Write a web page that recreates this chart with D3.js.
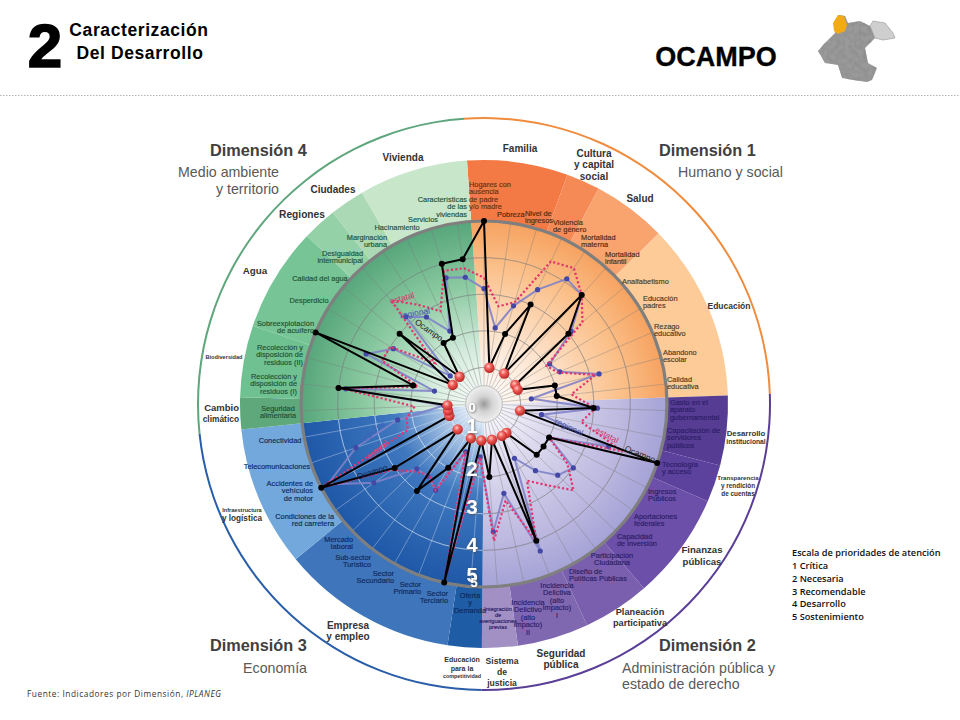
<!DOCTYPE html>
<html><head><meta charset="utf-8">
<script src="https://cdnjs.cloudflare.com/ajax/libs/d3/7.8.5/d3.min.js"></script>
<style>html,body{margin:0;padding:0;background:#fff}svg{display:block;font-family:"Liberation Sans",Arial,sans-serif}</style>
</head><body><svg id="c" width="960" height="720"></svg>
<script>
// ---------- DATA ----------
const indicators = ["Hogares con|ausencia|de padre|y/o madre","Pobreza","Nivel de|ingresos","Violencia|de género","Mortalidad|materna","Mortalidad|infantil","Analfabetismo","Educación|padres","Rezago|educativo","Abandono|escolar","Calidad|educativa","Gasto en el|aparato|gubernamental","Capacitación de|servidores|públicos","Tecnología|y acceso","Ingresos|Públicos","Aportaciones|federales","Capacidad|de inversión","Participación|Ciudadana","Diseño de|Políticas Públicas","Incidencia|Delictiva|(alto|impacto)|I","Incidencia|Delictivo|(alto|impacto)|II","Integración|de|averiguaciones|previas","Oferta|y|Demanda","Sector|Terciario","Sector|Primario","Sector|Secundario","Sub-sector|Turístico","Mercado|laboral","Condiciones de la|red carretera","Accidentes de|vehículos|de motor","Telecomunicaciones","Conectividad","Seguridad|alimentaria","Recolección y|disposición de|residuos (I)","Recolección y|disposición de|residuos (II)","Sobreexplotación|de acuífero","Desperdicio","Calidad del agua","Desigualdad|intermunicipal","Marginación|urbana","Hacinamiento","Servicios","Características|de las|viviendas"];
const ocampo   = [5,1,2,3,1,4,3,1,1,2,2,3,1,5,2,2,2,1,1,4,1,2,1,5,1,2,3,1,3,5,1,1,1,4,2,5,1,3,1,2,2,4,4];
const regional = [3.15,2.1,2.8,3.45,4.1,4,3.1,2.1,2.25,3.25,1.3,3.1,1.6,3.6,2,3,2.8,2.3,1.7,4.3,2.5,3.5,1.45,4.7,1.4,2.7,2.5,2.55,3.7,4.8,3.7,2.4,1.1,3.8,1.4,3.5,2.9,1.2,3.2,2.85,2.2,3.6,3.5];
const estatal  = [3.45,2.7,2.9,4.3,4.45,4,3.5,2,2.2,3.15,2.4,3.05,2.7,4,2,2.8,3.4,2.8,2.4,4,2.7,3.75,1.45,4.9,1.4,2.7,2.45,2.65,3.1,5,2.2,2.15,1.9,3.9,1.86,3.03,3,1.75,3.8,3.25,2.8,3.8,3.75];
const scaleTicks = [0,1,2,3,4,5];
const sectors = ["Familia","Cultura","Salud","Educación","Desarrollo institucional","Transparencia","Finanzas públicas","Planeación participativa","Seguridad pública","Sistema de justicia","Educación para la competitividad","Empresa y empleo","Infraestructura y logística","Cambio climático","Biodiversidad","Agua","Regiones","Ciudades","Vivienda"];
const sectorEnds = [-4,20,28,45.7,88,104.6,113.5,139,155,172,180.5,188.6,230.5,264,271.6,288.7,313.5,321.7,330,356];
const dimensions = ["Dimensión 1","Dimensión 2","Dimensión 3","Dimensión 4"];
const dimensionEnds = [-4,88,180.5,264,356];
const legendLines = ["Escala de prioridades de atención","1 Crítica","2 Necesaria","3 Recomendable","4 Desarrollo","5 Sostenimiento"];

// ---------- STYLE / LAYOUT ----------
const sectorColors = ["#f47a45","#f68a57","#f9a36e","#fccb97","#573c93","#5d429d","#6b4fa8","#795fae","#8068b1","#a28fc4","#1f5ca6","#3f75bb","#72a8dc","#5fa87c","#70c192","#77c596","#95d1a7","#abd9b6","#c8e6ca"];
const dimColors = ["#f08c3e","#5b3f96","#2a5ea9","#5fa67c"];
const discStops = [
 [[0,"#ffffff"],[.35,"#fde6d2"],[.75,"#fbc08a"],[1,"#f6a260"]],
 [[0,"#ffffff"],[.35,"#dcd9ee"],[.75,"#bdb9e0"],[1,"#a5a2d6"]],
 [[0,"#ffffff"],[.18,"#b9d0ea"],[.5,"#3f78bf"],[1,"#1e58a7"]],
 [[0,"#ffffff"],[.3,"#d5ecdd"],[.65,"#8ccaa2"],[1,"#57a67b"]]];
const W=960,H=720,cx=484,cy=404,R5=183,Rband=244,Rring=286;
const rad=d=>d*Math.PI/180;
const svg=d3.select("#c");
const defs=svg.append("defs");
const plot=svg.append("g").attr("transform",`translate(${cx},${cy})`);
const rScale=d3.scaleLinear().domain([0,5]).range([0,R5]);
const aScale=d3.scaleLinear().domain([0,indicators.length]).range([0,2*Math.PI]);
const arc=d3.arc();
const pt=(i,v)=>[rScale(v)*Math.sin(aScale(i)),-rScale(v)*Math.cos(aScale(i))];

discStops.forEach((st,i)=>{
  const g=defs.append("radialGradient").attr("id","q"+i).attr("gradientUnits","userSpaceOnUse").attr("cx",0).attr("cy",0).attr("r",R5);
  st.forEach(s=>g.append("stop").attr("offset",s[0]).attr("stop-color",s[1]));
});
const hub=defs.append("radialGradient").attr("id","hub");
[[0,"#9a9a9a"],[.45,"#d4d4d4"],[1,"#efefef"]].forEach(s=>hub.append("stop").attr("offset",s[0]).attr("stop-color",s[1]));
const ball=defs.append("radialGradient").attr("id","ball").attr("cx",.4).attr("cy",.35).attr("r",.7);
[[0,"#ffc9c4"],[.4,"#ee5a55"],[1,"#b5201f"]].forEach(s=>ball.append("stop").attr("offset",s[0]).attr("stop-color",s[1]));
defs.append("filter").attr("id","sh").attr("x","-30%").attr("y","-30%").attr("width","160%").attr("height","160%")
  .append("feDropShadow").attr("dx",0.6).attr("dy",0.8).attr("stdDeviation",0.8).attr("flood-color","#444").attr("flood-opacity",.75);
const mott=defs.append("filter").attr("id","mott").attr("x","0").attr("y","0").attr("width","100%").attr("height","100%");
mott.append("feTurbulence").attr("type","fractalNoise").attr("baseFrequency",.22).attr("numOctaves",2).attr("seed",4).attr("result","n");
mott.append("feColorMatrix").attr("in","n").attr("type","matrix").attr("values","0 0 0 0 .25  0 0 0 0 .25  0 0 0 0 .25  1.6 0 0 0 -.55").attr("result","d");
mott.append("feComposite").attr("in","d").attr("in2","SourceAlpha").attr("operator","in").attr("result","m");
const mm=mott.append("feMerge");mm.append("feMergeNode").attr("in","SourceGraphic");mm.append("feMergeNode").attr("in","m");

dimensions.forEach((d,i)=>{
  plot.append("path").attr("fill",dimColors[i]).attr("d",arc({innerRadius:Rring-1,outerRadius:Rring+1,startAngle:rad(dimensionEnds[i]),endAngle:rad(dimensionEnds[i+1])}));
});
sectors.forEach((s,i)=>{
  plot.append("path").attr("fill",sectorColors[i]).attr("d",arc({innerRadius:R5,outerRadius:Rband,startAngle:rad(sectorEnds[i]),endAngle:rad(sectorEnds[i+1])}));
});
dimensions.forEach((d,i)=>{
  plot.append("path").attr("fill",`url(#q${i})`).attr("d",arc({innerRadius:0,outerRadius:R5,startAngle:rad(dimensionEnds[i]),endAngle:rad(dimensionEnds[i+1])}));
});
const grid=plot.append("g");
const gridGrey="rgba(120,120,120,.38)", gridWhite="rgba(255,255,255,.32)";
scaleTicks.slice(1,5).forEach(t=>{
  [0,1,2,3].forEach(q=>grid.append("path").attr("fill","none").attr("stroke",q==2?gridWhite:gridGrey).attr("stroke-width",1)
    .attr("d",d3.arc()({innerRadius:rScale(t),outerRadius:rScale(t),startAngle:rad(dimensionEnds[q]),endAngle:rad(dimensionEnds[q+1])})));
});
indicators.forEach((d,i)=>{
  const deg=aScale(i)*180/Math.PI;
  const blue=deg>180.5&&deg<264;
  const a=pt(i,.5),b=pt(i,5);
  grid.append("line").attr("x1",a[0]).attr("y1",a[1]).attr("x2",b[0]).attr("y2",b[1]).attr("stroke",blue?gridWhite:gridGrey).attr("stroke-width",1);
});
plot.append("circle").attr("r",rScale(.5)).attr("fill","url(#hub)").attr("stroke","#b0b0b0").attr("stroke-width",.8);
plot.append("circle").attr("r",R5).attr("fill","none").attr("stroke","#7f7f7f").attr("stroke-width",3.2);

const radial=d3.lineRadial().angle((d,i)=>aScale(i)).radius(d=>rScale(d)).curve(d3.curveLinearClosed);
plot.append("path").attr("d",radial(regional)).attr("fill","none").attr("stroke","#7f82c8").attr("stroke-width",2).attr("stroke-opacity",.9);
plot.selectAll(".rd").data(regional).join("circle").attr("r",2.6).attr("fill","#4347a6").attr("cx",(d,i)=>pt(i,d)[0]).attr("cy",(d,i)=>pt(i,d)[1]);
plot.append("path").attr("d",radial(estatal)).attr("fill","none").attr("stroke","#e2356f").attr("stroke-width",2.2).attr("stroke-dasharray","2.2 2.2");
plot.append("path").attr("d",radial(ocampo)).attr("fill","none").attr("stroke","#000").attr("stroke-width",2).attr("stroke-linejoin","round");
plot.selectAll(".od").data(ocampo).join("circle").attr("r",d=>d===1?5.2:3).attr("fill",d=>d===1?"url(#ball)":"#000").attr("cx",(d,i)=>pt(i,d)[0]).attr("cy",(d,i)=>pt(i,d)[1]);

const tags=[["estatal",402,298,-15,"#d8336b"],["regional",415,313,-10,"#4a55b0"],["Ocampo",429,330,35,"#222"],
 ["regional",569,427,25,"#4a55a8"],["estatal",607,435,28,"#d8336b"],["Ocampo",640,454,22,"#222"],
 ["regional",372,432,-38,"#3f63b8"],["estatal",377,450,-38,"#e0457e"],["Ocampo",372,472,-18,"#16224a"]];
tags.forEach(t=>svg.append("text").attr("transform",`translate(${t[1]},${t[2]}) rotate(${t[3]})`).attr("text-anchor","middle").attr("dy",".35em").attr("font-size",8.5).attr("fill",t[4]).text(t[0]));

const numY=[407,426,469,507,545,575], numS=[13,20,20,20,20,20];
scaleTicks.forEach((t,i)=>svg.append("text").attr("x",472).attr("y",numY[i]).attr("dy",".35em").attr("text-anchor","middle").attr("font-weight","bold").attr("font-size",numS[i]).attr("fill","#fff").attr("filter","url(#sh)").text(t));
svg.append("text").attr("x",474).attr("y",582).attr("dy",".35em").attr("text-anchor","middle").attr("font-weight","bold").attr("font-size",13).attr("fill","#fff").attr("filter","url(#sh)").text("5");

const il=[[469,184,"start",7.4,"#6a2f12"],[497,214,"start",7.4,"#4d2a12"],[525,213,"start",7.4,"#4d2a12"],[553,222,"start",7.4,"#4d2a12"],[581,237,"start",7.4,"#4d2a12"],[605,254,"start",7.4,"#4d2a12"],[622,281,"start",7.4,"#4d3a20"],[643,298,"start",7.4,"#4d3a20"],[654,326,"start",7.4,"#4d3a20"],[663,352,"start",7.4,"#4d3a20"],[667,379,"start",7.4,"#4d3a20"],
[670,402,"start",7.4,"#2b1d66"],[667,430,"start",7.4,"#2b1d66"],[662,464,"start",7.4,"#2b1d66"],[648,491,"start",7.4,"#2b1d66"],[634,516,"start",7.4,"#2b1d66"],[617,536,"start",7.4,"#2b1d66"],[612,555,"middle",7.4,"#2b1d66"],[569,571,"start",7.4,"#2b1d66"],[557,585,"middle",7.4,"#2b1d66"],[528,602,"middle",7.4,"#2b1d66"],[498,609,"middle",5.6,"#2b1d66"],
[470,595,"middle",7.4,"#10285a"],[448,593,"end",7.4,"#10285a"],[421,584,"end",7.4,"#10285a"],[394,573,"end",7.4,"#10285a"],[371,557,"end",7.4,"#10285a"],[353,539,"end",7.4,"#10285a"],[334,516,"end",7.4,"#10285a"],[313,483,"end",7.4,"#10285a"],[277,466,"middle",7.4,"#10285a"],[280,440,"middle",7.4,"#10285a"],
[278,408,"middle",7.4,"#1f5033"],[297,376,"end",7.4,"#1f5033"],[303,347,"end",7.4,"#1f5033"],[314,323,"end",7.4,"#1f5033"],[309,300,"middle",7.4,"#1f5033"],[320,278,"middle",7.4,"#1f5033"],[363,253,"end",7.4,"#1f5033"],[387,237,"end",7.4,"#1f5033"],[397,227,"middle",7.4,"#1f5033"],[423,219,"middle",7.4,"#1f5033"],[467,199,"end",7.4,"#1f5033"]];
const lineGap=7.6;
function lines(x,y,str,anchor,size,fill,gap){
  str.split("|").forEach((s,k)=>svg.append("text").attr("x",x).attr("y",y+k*gap).attr("dy",".35em").attr("text-anchor",anchor).attr("font-size",size).attr("fill",fill).attr("stroke",fill).attr("stroke-width",.15).text(s));
}
indicators.forEach((d,i)=>{const l=il[i];lines(l[0],l[1],d,l[2],l[3],l[4],l[3]<6?6:lineGap);});

const sl=[["Familia",520,148,10],["Cultura|y capital|social",594,153,10],["Salud",640,198,10],["Educación",729,306,8.5],["Desarrollo",746,433,7.8],["Finanzas|públicas",702,550,9.6],["Planeación|participativa",640,612,9.2],["Seguridad|pública",561,653,10],["Sistema|de|justicia",502,661,8.6],["Empresa|y empleo",348,625,10],["Agua",255,271,9.8],["Regiones",302,214,10.2],["Ciudades",333,189,10],["Vivienda",403,157,10]];
sl.forEach(s=>s[0].split("|").forEach((t,k)=>svg.append("text").attr("x",s[1]).attr("y",s[2]+k*(Math.max(s[3],9.4)*1.18)).attr("dy",".35em").attr("text-anchor","middle").attr("font-weight","bold").attr("font-size",s[3]).attr("fill","#333").text(t)));
const sm=[["institucional",746,442,6.7,"middle"],["Transparencia",738,478,6.1,"middle"],["y rendición",738,486,6.4,"middle"],["de cuentas",738,494,6.4,"middle"],["Educación",462,660,7,"middle"],["para la",462,669,7,"middle"],["competitividad",462,676,5.4,"middle"],["Infraestructura",242,510,5.6,"middle"],["y logística",242,518,8.2,"middle"],["Cambio",239,408,9.5,"end"],["climático",239,419,8.4,"end"],["Biodiversidad",224,357,5.6,"middle"]];
sm.forEach(s=>svg.append("text").attr("x",s[1]).attr("y",s[2]).attr("dy",".35em").attr("text-anchor",s[4]).attr("font-weight","bold").attr("font-size",s[3]).attr("fill","#333").text(s[0]));

const dh=[["Dimensión 4",210,156,"start"],["Dimensión 1",659,156,"start"],["Dimensión 3",210,651,"start"],["Dimensión 2",659,651,"start"]];
dh.forEach(d=>svg.append("text").attr("x",d[1]).attr("y",d[2]).attr("text-anchor",d[3]).attr("font-weight","bold").attr("font-size",16.3).attr("fill","#404040").text(d[0]));
const ds=[["Medio ambiente",279,177,"end"],["y territorio",279,194,"end"],["Humano y social",678,177,"start"],["Economía",307,673,"end"],["Administración pública y",622,673,"start"],["estado de derecho",622,689,"start"]];
ds.forEach(d=>svg.append("text").attr("x",d[1]).attr("y",d[2]).attr("text-anchor",d[3]).attr("font-size",14.2).attr("fill","#595959").text(d[0]));

svg.append("text").attr("x",45).attr("y",67).attr("text-anchor","middle").attr("font-weight","bold").attr("font-size",62).attr("fill","#000").attr("stroke","#000").attr("stroke-width",1.6).text("2");
svg.append("text").attr("x",139).attr("y",36).attr("text-anchor","middle").attr("font-weight","bold").attr("font-size",17.5).attr("letter-spacing",.6).text("Caracterización");
svg.append("text").attr("x",140).attr("y",59).attr("text-anchor","middle").attr("font-weight","bold").attr("font-size",17.5).attr("letter-spacing",.6).text("Del Desarrollo");
svg.append("text").attr("x",716).attr("y",66).attr("text-anchor","middle").attr("font-weight","bold").attr("font-size",27).attr("stroke","#000").attr("stroke-width",.3).text("OCAMPO");
svg.append("line").attr("x1",0).attr("x2",960).attr("y1",95.5).attr("y2",95.5).attr("stroke","#b5b5b5").attr("stroke-dasharray","1.5 1.5");

const mapOutline=[[838,15],[845,16],[848,23],[860,21],[870,26],[873,28],[875,38],[865,48],[868,63],[877,68],[872,80],[867,82],[853,80],[842,78],[838,65],[825,63],[818,51],[823,45],[835,33]];
const mapLobe=[[870,26],[873,21],[885,23],[893,33],[895,38],[883,40],[875,38]];
const mapMuni=[[838,15],[844,16],[847,25],[845,31],[838,34],[834,31],[833,23]];
const mline=d3.line().curve(d3.curveLinearClosed);
svg.append("path").attr("d",mline(mapOutline)).attr("fill","#9a9a9a").attr("filter","url(#mott)");
svg.append("path").attr("d",mline(mapLobe)).attr("fill","#cfcfcf").attr("stroke","#9f9f9f").attr("stroke-width",.7);
svg.append("path").attr("d",mline(mapMuni)).attr("fill","#f2ab14");

legendLines.forEach((t,i)=>svg.append("text").attr("x",792).attr("y",553+i*12.8).attr("dy",".35em").attr("font-family","'Open Sans'").attr("font-weight",600).attr("font-size",9.2).attr("fill","#111").text(t));
const src=svg.append("text").attr("x",27).attr("y",694).attr("dy",".35em").attr("font-family","'Open Sans'").attr("font-size",8.3).attr("letter-spacing",.55).attr("fill","#333");
src.append("tspan").text("Fuente: Indicadores por Dimensión, ");
src.append("tspan").attr("font-style","italic").text("IPLANEG");
</script></body></html>
